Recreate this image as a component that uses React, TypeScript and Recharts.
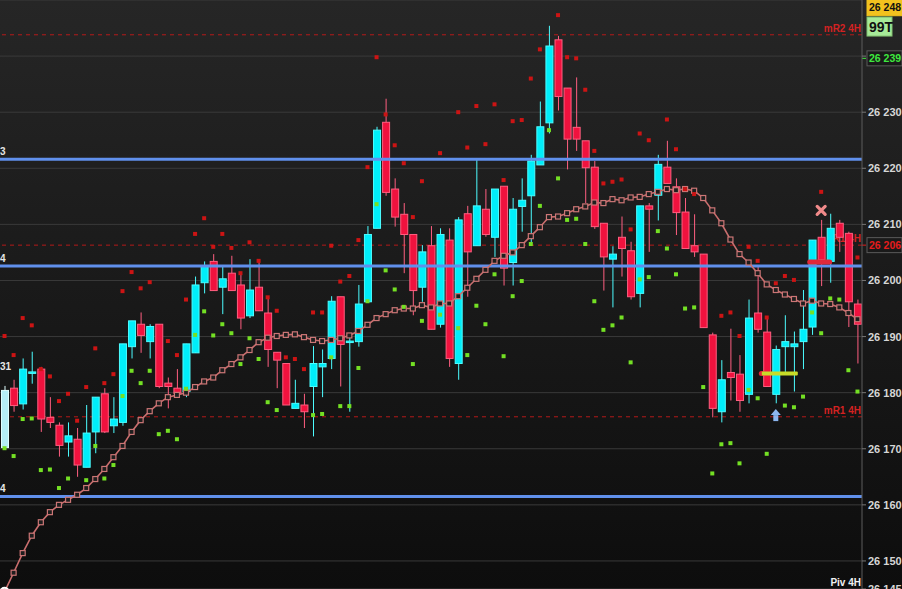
import {
  ComposedChart,
  Bar,
  Line,
  Scatter,
  XAxis,
  YAxis,
  CartesianGrid,
  ReferenceLine,
  ReferenceDot,
} from 'recharts'

// 4H candles (index 0 = leftmost)
const open = [
  26170.2, 26180.8, 26178.0, 26183.5, 26184.2, 26175.6, 26174.2, 26171.2, 26171.7, 26166.7,
  26173.0, 26179.8, 26174.1, 26174.7, 26188.2, 26192.2, 26189.1, 26192.2, 26181.7, 26180.8,
  26180.2, 26187.1, 26199.6, 26203.4, 26198.8, 26201.3, 26199.2, 26193.7, 26198.8, 26194.2,
  26187.2, 26185.2, 26177.2, 26177.8, 26181.1, 26184.6, 26186.1, 26197.1, 26189.0, 26189.1,
  26196.2, 26209.3, 26228.2, 26216.3, 26211.8, 26208.2, 26198.8, 26206.2, 26192.2, 26207.2,
  26185.2, 26211.9, 26206.2, 26212.7, 26207.7, 26216.8, 26203.2, 26213.2, 26215.1, 26220.6,
  26228.1, 26242.9, 26234.3, 26227.3, 26224.9, 26220.2, 26210.2, 26203.8, 26207.7, 26205.3,
  26197.7, 26213.3, 26215.2, 26220.2, 26216.7, 26212.2, 26206.2, 26204.7, 26190.3, 26176.6,
  26183.6, 26183.3, 26179.7, 26194.2, 26190.8, 26179.7, 26188.2, 26188.2, 26189.1, 26191.7,
  26207.7, 26203.4, 26210.2, 26208.4, 26195.8,
]
const high = [
  26181.2, 26182.3, 26186.1, 26187.3, 26184.6, 26179.2, 26174.7, 26174.7, 26173.7, 26177.8,
  26179.2, 26180.8, 26179.2, 26188.7, 26192.8, 26194.3, 26192.2, 26192.2, 26182.7, 26184.2,
  26188.7, 26200.7, 26203.4, 26204.7, 26202.6, 26204.4, 26201.4, 26203.8, 26203.8, 26197.0,
  26187.2, 26185.2, 26182.3, 26179.8, 26188.3, 26187.7, 26197.2, 26197.1, 26190.3, 26199.2,
  26209.7, 26227.4, 26232.4, 26218.2, 26213.8, 26208.2, 26206.3, 26209.7, 26209.3, 26209.3,
  26211.3, 26213.3, 26221.5, 26216.3, 26216.3, 26216.8, 26214.7, 26218.2, 26222.4, 26231.9,
  26245.4, 26243.6, 26234.3, 26236.2, 26224.9, 26221.3, 26210.2, 26206.1, 26211.4, 26206.9,
  26213.3, 26213.8, 26222.4, 26224.9, 26218.2, 26214.7, 26211.8, 26204.7, 26190.7, 26185.8,
  26191.4, 26186.7, 26196.6, 26202.6, 26193.3, 26188.4, 26193.8, 26190.9, 26198.3, 26207.2,
  26210.8, 26211.9, 26210.8, 26208.7, 26196.6,
]
const low = [
  26170.0, 26176.6, 26177.0, 26181.6, 26173.0, 26173.7, 26168.6, 26168.6, 26165.0, 26166.7,
  26169.2, 26172.8, 26172.8, 26174.1, 26186.1, 26187.1, 26186.1, 26180.8, 26177.2, 26179.3,
  26179.2, 26187.1, 26197.7, 26198.2, 26194.0, 26198.2, 26191.3, 26193.3, 26194.6, 26184.6,
  26180.8, 26177.8, 26177.2, 26173.7, 26172.2, 26179.2, 26184.2, 26181.1, 26176.6, 26188.2,
  26196.2, 26209.3, 26215.1, 26209.6, 26201.3, 26193.8, 26196.2, 26191.3, 26191.6, 26184.6,
  26182.3, 26197.1, 26206.2, 26207.8, 26204.2, 26199.1, 26199.1, 26208.7, 26206.3, 26220.6,
  26226.2, 26230.3, 26219.8, 26223.1, 26213.8, 26209.2, 26198.2, 26195.2, 26200.7, 26196.6,
  26195.2, 26205.1, 26210.7, 26217.3, 26208.1, 26205.7, 26204.2, 26191.6, 26175.6, 26174.7,
  26178.6, 26176.6, 26178.1, 26190.7, 26181.1, 26178.1, 26183.7, 26180.2, 26184.2, 26190.3,
  26199.0, 26199.6, 26205.1, 26191.7, 26185.2,
]
const close = [
  26180.4, 26177.7, 26184.2, 26183.7, 26175.3, 26174.7, 26170.6, 26172.3, 26167.1, 26172.8,
  26179.2, 26173.0, 26175.3, 26188.7, 26192.8, 26190.2, 26191.8, 26181.1, 26181.1, 26179.9,
  26188.7, 26199.2, 26202.6, 26198.2, 26200.3, 26198.2, 26193.3, 26198.3, 26194.6, 26187.7,
  26185.8, 26177.8, 26178.1, 26176.6, 26185.2, 26185.2, 26196.3, 26188.6, 26189.2, 26195.8,
  26208.2, 26226.8, 26215.7, 26211.3, 26208.2, 26198.2, 26205.1, 26191.3, 26208.2, 26186.1,
  26210.8, 26205.1, 26213.3, 26208.2, 26216.3, 26202.2, 26212.7, 26214.3, 26221.3, 26227.4,
  26241.8, 26232.8, 26225.2, 26225.2, 26220.1, 26209.6, 26204.2, 26204.7, 26205.7, 26197.1,
  26213.3, 26212.7, 26220.7, 26217.3, 26212.1, 26205.7, 26205.1, 26191.6, 26177.2, 26182.3,
  26182.7, 26178.6, 26193.3, 26191.3, 26181.1, 26187.7, 26189.1, 26188.7, 26191.3, 26207.2,
  26203.7, 26209.3, 26207.7, 26196.2, 26192.2,
]
// moving average (pink line with hollow squares)
const ma = [
  26144.5, 26147.9, 26151.4, 26154.5, 26156.9, 26158.7, 26160.0, 26160.9, 26161.8, 26163.0,
  26164.6, 26166.4, 26168.5, 26170.5, 26173.0, 26175.1, 26176.7, 26178.1, 26179.2, 26179.6,
  26180.0, 26181.0, 26182.0, 26182.7, 26184.0, 26185.1, 26186.3, 26187.6, 26189.0, 26189.8,
  26190.1, 26190.3, 26190.4, 26189.9, 26189.4, 26189.2, 26189.4, 26189.7, 26190.2, 26191.0,
  26192.1, 26193.3, 26194.0, 26194.7, 26195.0, 26195.0, 26195.6, 26195.2, 26195.9, 26195.9,
  26197.2, 26198.7, 26200.3, 26201.9, 26203.5, 26204.4, 26205.0, 26206.3, 26207.9, 26209.5,
  26211.3, 26211.4, 26212.0, 26212.7, 26213.2, 26213.9, 26213.8, 26214.5, 26214.3, 26214.8,
  26214.9, 26215.4, 26215.8, 26216.3, 26216.1, 26216.3, 26216.0, 26214.7, 26212.5, 26210.2,
  26207.3, 26204.7, 26203.2, 26201.3, 26199.3, 26198.3, 26197.5, 26196.7, 26195.9, 26196.4,
  26195.9, 26195.8, 26195.2, 26194.2, 26193.1,
]
// red dots above / green dots below
const upDots = [
  26190.1, 26186.7, 26193.3, 26192.0, 26184.2, 26182.9, 26178.5, 26179.8, 26175.0, 26181.0,
  26187.9, 26181.7, 26183.3, 26198.1, 26201.5, 26198.6, 26199.7, null, 26189.2, 26186.7,
  26196.6, 26208.3, 26211.1, 26206.0, 26208.3, 26205.8, 26201.3, 26206.8, 26203.5, 26197.0,
  26194.6, 26186.3, 26186.0, 26184.2, 26194.3, 26194.3, 26206.2, 26199.8, 26200.8, 26207.2,
  26220.2, 26239.8, 26229.6, 26224.1, 26220.9, 26211.3, 26217.7, null, 26222.7, null,
  26230.0, 26223.7, 26231.1, 26224.3, 26231.4, 26217.9, 26228.4, 26228.6, 26236.0, 26241.2,
  null, 26247.3, 26239.8, 26239.6, 26234.0, 26223.1, 26217.3, 26217.6, 26218.0, 26209.1,
  26226.2, 26225.0, null, 26228.7, 26223.4, 26216.3, 26215.4, null, null, 26193.7,
  26194.3, 26190.1, 26206.0, 26203.5, 26193.4, 26199.5, 26200.8, 26200.1, null, null,
  26215.8, null, null, null, 26204.1,
]
const dnDots = [
  26170.1, 26168.7, 26175.3, 26175.4, 26166.2, 26166.3, 26163.0, 26164.7, null, 26164.4,
  26170.5, 26164.7, 26167.1, 26179.4, 26183.9, 26181.7, 26183.9, 26172.6, 26173.2, 26171.7,
  26180.7, 26190.3, 26194.5, 26190.2, 26192.2, 26190.6, 26185.1, 26189.7, 26186.0, 26178.3,
  26176.9, null, null, null, 26176.0, 26176.2, 26186.3, 26177.6, 26177.6, 26184.4,
  26196.3, 26213.6, 26201.8, 26198.4, 26195.3, 26185.1, 26192.8, null, 26193.9, null,
  26191.5, 26186.7, 26195.5, 26192.2, 26201.1, 26186.5, 26197.2, 26199.9, 26206.5, 26213.3,
  26226.8, 26218.2, 26210.8, 26211.0, 26206.5, 26196.3, 26191.2, 26192.0, 26193.4, 26185.4,
  26200.2, 26200.6, 26208.8, 26205.7, 26201.1, 26195.0, 26195.2, 26181.0, 26165.6, 26170.8,
  26171.0, 26167.4, 26180.5, 26179.0, 26169.1, null, 26177.7, 26177.4, 26179.3, 26194.3,
  26190.6, 26196.8, 26196.6, 26184.0, 26180.2,
]

const yTicks = [26145, 26150, 26160, 26170, 26180, 26190, 26200, 26210, 26220, 26230, 26240]
const blueLevels = [26221.6, 26202.6, 26161.5]
const blueTags = ['3', '4', '4']
const pivotLevels = [
  { y: 26243.8, name: 'mR2 4H' },
  { y: 26206.3, name: 'R1 4H' },
  { y: 26175.7, name: 'mR1 4H' },
]

const data = open.map((o, i) => ({
  i,
  open: o,
  high: high[i],
  low: low[i],
  close: close[i],
  range: [low[i], high[i]],
  ma: ma[i],
  up: upDots[i],
  dn: dnDots[i],
}))

const FONT = '"Liberation Sans", Arial, sans-serif'
const fmt = (v: number) => {
  const s = String(Math.round(v))
  return s.slice(0, 2) + ' ' + s.slice(2)
}

function Candle(props: any) {
  const { x, y, width, height, payload, index } = props
  const top = Math.min(y, y + height)
  const h = Math.abs(height)
  const k = h / (payload.high - payload.low)
  const py = (v: number) => top + (payload.high - v) * k
  const bull = payload.close >= payload.open
  const fill = index === 0 ? '#b4eef6' : bull ? '#00eefa' : '#f0123e'
  const edge = index === 0 ? '#e0ffff' : bull ? '#4cfcff' : '#ff5f80'
  const cx = x + width / 2
  const bTop = py(Math.max(payload.open, payload.close))
  const bH = Math.max(py(Math.min(payload.open, payload.close)) - bTop, 1.5)
  return (
    <g>
      <line x1={cx} x2={cx} y1={py(payload.high)} y2={py(payload.low)} stroke={edge} strokeWidth={1} />
      <rect x={x + 0.5} y={bTop} width={width - 1} height={bH} fill={fill} stroke={edge} strokeWidth={1} />
    </g>
  )
}

function MaDot(props: any) {
  const { cx, cy } = props
  if (cx == null || cy == null) return <g />
  return <rect x={cx - 2.5} y={cy - 2.5} width={5} height={5} fill="#1e1e1e" stroke="#cc7676" strokeWidth={1.2} />
}

const dotShape = (key: 'up' | 'dn', color: string) => (props: any) => {
  const { cx, cy, payload } = props
  if (payload == null || payload[key] == null || cy == null || isNaN(cy)) return <g />
  return <rect x={cx - 2} y={cy - 2} width={4} height={4} fill={color} />
}

function PriceTick(props: any) {
  const { x, y, payload } = props
  if (payload.value === 26240) return <g />
  return (
    <text x={x} y={y + 4} fill="#d6d6d6" fontSize={11} fontWeight="bold" fontFamily={FONT}>
      {fmt(payload.value)}
    </text>
  )
}

function Tag(props: any) {
  const { viewBox, text, bg, fg, border, dy = 0, w = 35, h = 15, size = 10.5, mark } = props
  if (!viewBox) return null
  const x0 = viewBox.x + viewBox.width + 5
  const yc = viewBox.y + dy
  return (
    <g>
      {mark && <line x1={viewBox.x + viewBox.width} x2={viewBox.x + viewBox.width + 4} y1={yc} y2={yc} stroke={mark} />}
      <rect x={x0} y={yc - h / 2} width={w} height={h} fill={bg} stroke={border} strokeWidth={1} />
      <text x={x0 + 2} y={yc + size * 0.36} fill={fg} fontSize={size} fontWeight="bold" fontFamily={FONT}>
        {text}
      </text>
    </g>
  )
}

function LevelName(props: any) {
  const { viewBox, text, color } = props
  if (!viewBox) return null
  return (
    <text x={viewBox.x + viewBox.width - 1} y={viewBox.y - 3} textAnchor="end" fill={color} fontSize={10} fontWeight="bold" fontFamily={FONT}>
      {text}
    </text>
  )
}

function EdgeText(props: any) {
  const { viewBox, text } = props
  if (!viewBox) return null
  return (
    <text x={0} y={viewBox.y - 4} fill="#e6e6e6" fontSize={10} fontWeight="bold" fontFamily={FONT}>
      {text}
    </text>
  )
}

const Cross = (props: any) => {
  const { cx, cy } = props
  return (
    <g stroke="#f08a8a" strokeWidth={3.2} strokeLinecap="round">
      <line x1={cx - 4} y1={cy - 4} x2={cx + 4} y2={cy + 4} />
      <line x1={cx - 4} y1={cy + 4} x2={cx + 4} y2={cy - 4} />
    </g>
  )
}
const RedBar = (props: any) => (
  <rect x={props.cx - 14} y={props.cy - 2.5} width={25} height={5} rx={2.5} fill="#e0283a" />
)
const YellowBar = (props: any) => (
  <g>
    <rect x={props.cx - 17} y={props.cy - 2.5} width={6} height={5} rx={2.5} fill="#e0283a" />
    <rect x={props.cx - 14} y={props.cy - 2} width={36} height={4} rx={1} fill="#c8dc28" />
  </g>
)
const Arrow = (props: any) => {
  const { cx, cy } = props
  return (
    <g fill="#8cb6f0">
      <polygon points={`${cx - 5},${cy} ${cx + 5},${cy} ${cx},${cy - 6}`} />
      <rect x={cx - 2.5} y={cy} width={5} height={6} />
    </g>
  )
}

export default function App() {
  return (
    <div
      style={{
        position: 'absolute',
        left: 0,
        top: 0,
        width: 902,
        height: 589,
        background: 'linear-gradient(#262626, #0d0d0d)',
        fontFamily: FONT,
      }}
    >
      <ComposedChart width={902} height={589} data={data} margin={{ top: 0, right: 0, bottom: 0, left: 0 }}>
        <CartesianGrid vertical={false} stroke="#3a3a3a" />
        <XAxis dataKey="i" type="category" hide />
        <YAxis
          orientation="right"
          width={40}
          domain={[26145, 26250]}
          allowDataOverflow
          ticks={yTicks}
          interval={0}
          tick={<PriceTick />}
          tickSize={4}
          tickMargin={2}
          tickLine={{ stroke: '#777' }}
          axisLine={{ stroke: '#5c5c5c' }}
        />

        {pivotLevels.map((p) => (
          <ReferenceLine
            key={p.name}
            y={p.y}
            stroke="#b41a1a"
            strokeDasharray="4 4"
            zIndex={100}
            label={<LevelName text={p.name} color="#d42222" />}
          />
        ))}

        <Bar dataKey="range" barSize={8} shape={<Candle />} isAnimationActive={false} />

        {blueLevels.map((v, k) => (
          <ReferenceLine key={v} y={v} stroke="#6090ec" strokeWidth={3} zIndex={350} label={<EdgeText text={blueTags[k]} />} />
        ))}
        <ReferenceLine y={26183.3} stroke="none" label={<EdgeText text="31" />} />

        <Line
          dataKey="ma"
          stroke="#c96e6e"
          strokeWidth={1.6}
          dot={<MaDot />}
          isAnimationActive={false}
        />
        <Scatter dataKey="up" shape={dotShape('up', '#cc1414')} isAnimationActive={false} />
        <Scatter dataKey="dn" shape={dotShape('dn', '#74e024')} isAnimationActive={false} />

        <ReferenceDot x={90} y={26212.5} shape={Cross} zIndex={700} />
        <ReferenceDot x={90} y={26203.3} shape={RedBar} zIndex={700} />
        <ReferenceDot x={85} y={26183.4} shape={YellowBar} zIndex={700} />
        <ReferenceDot x={85} y={26176.0} shape={Arrow} zIndex={700} />

        <ReferenceLine y={26145} stroke="none" label={<LevelName text="Piv 4H" color="#f0f0f0" />} />
        <ReferenceLine y={26248} stroke="none" label={<Tag text="26 248" bg="#f2c21e" fg="#111" border="#f2c21e" dy={-3.5} h={16} />} />
        <ReferenceLine y={26245} stroke="none" label={<Tag text="99T" bg="#a6ea98" fg="#111" border="#80c070" dy={-1.5} w={25} h={19} size={14} />} />
        <ReferenceLine y={26239.6} stroke="none" label={<Tag text="26 239" bg="#1a1a1a" fg="#3ee83e" border="#5a5a5a" mark="#3ee83e" />} />
        <ReferenceLine y={26206.3} stroke="none" label={<Tag text="26 206" bg="#1a1a1a" fg="#e41c1c" border="#5a5a5a" mark="#e41c1c" />} />
      </ComposedChart>
    </div>
  )
}
